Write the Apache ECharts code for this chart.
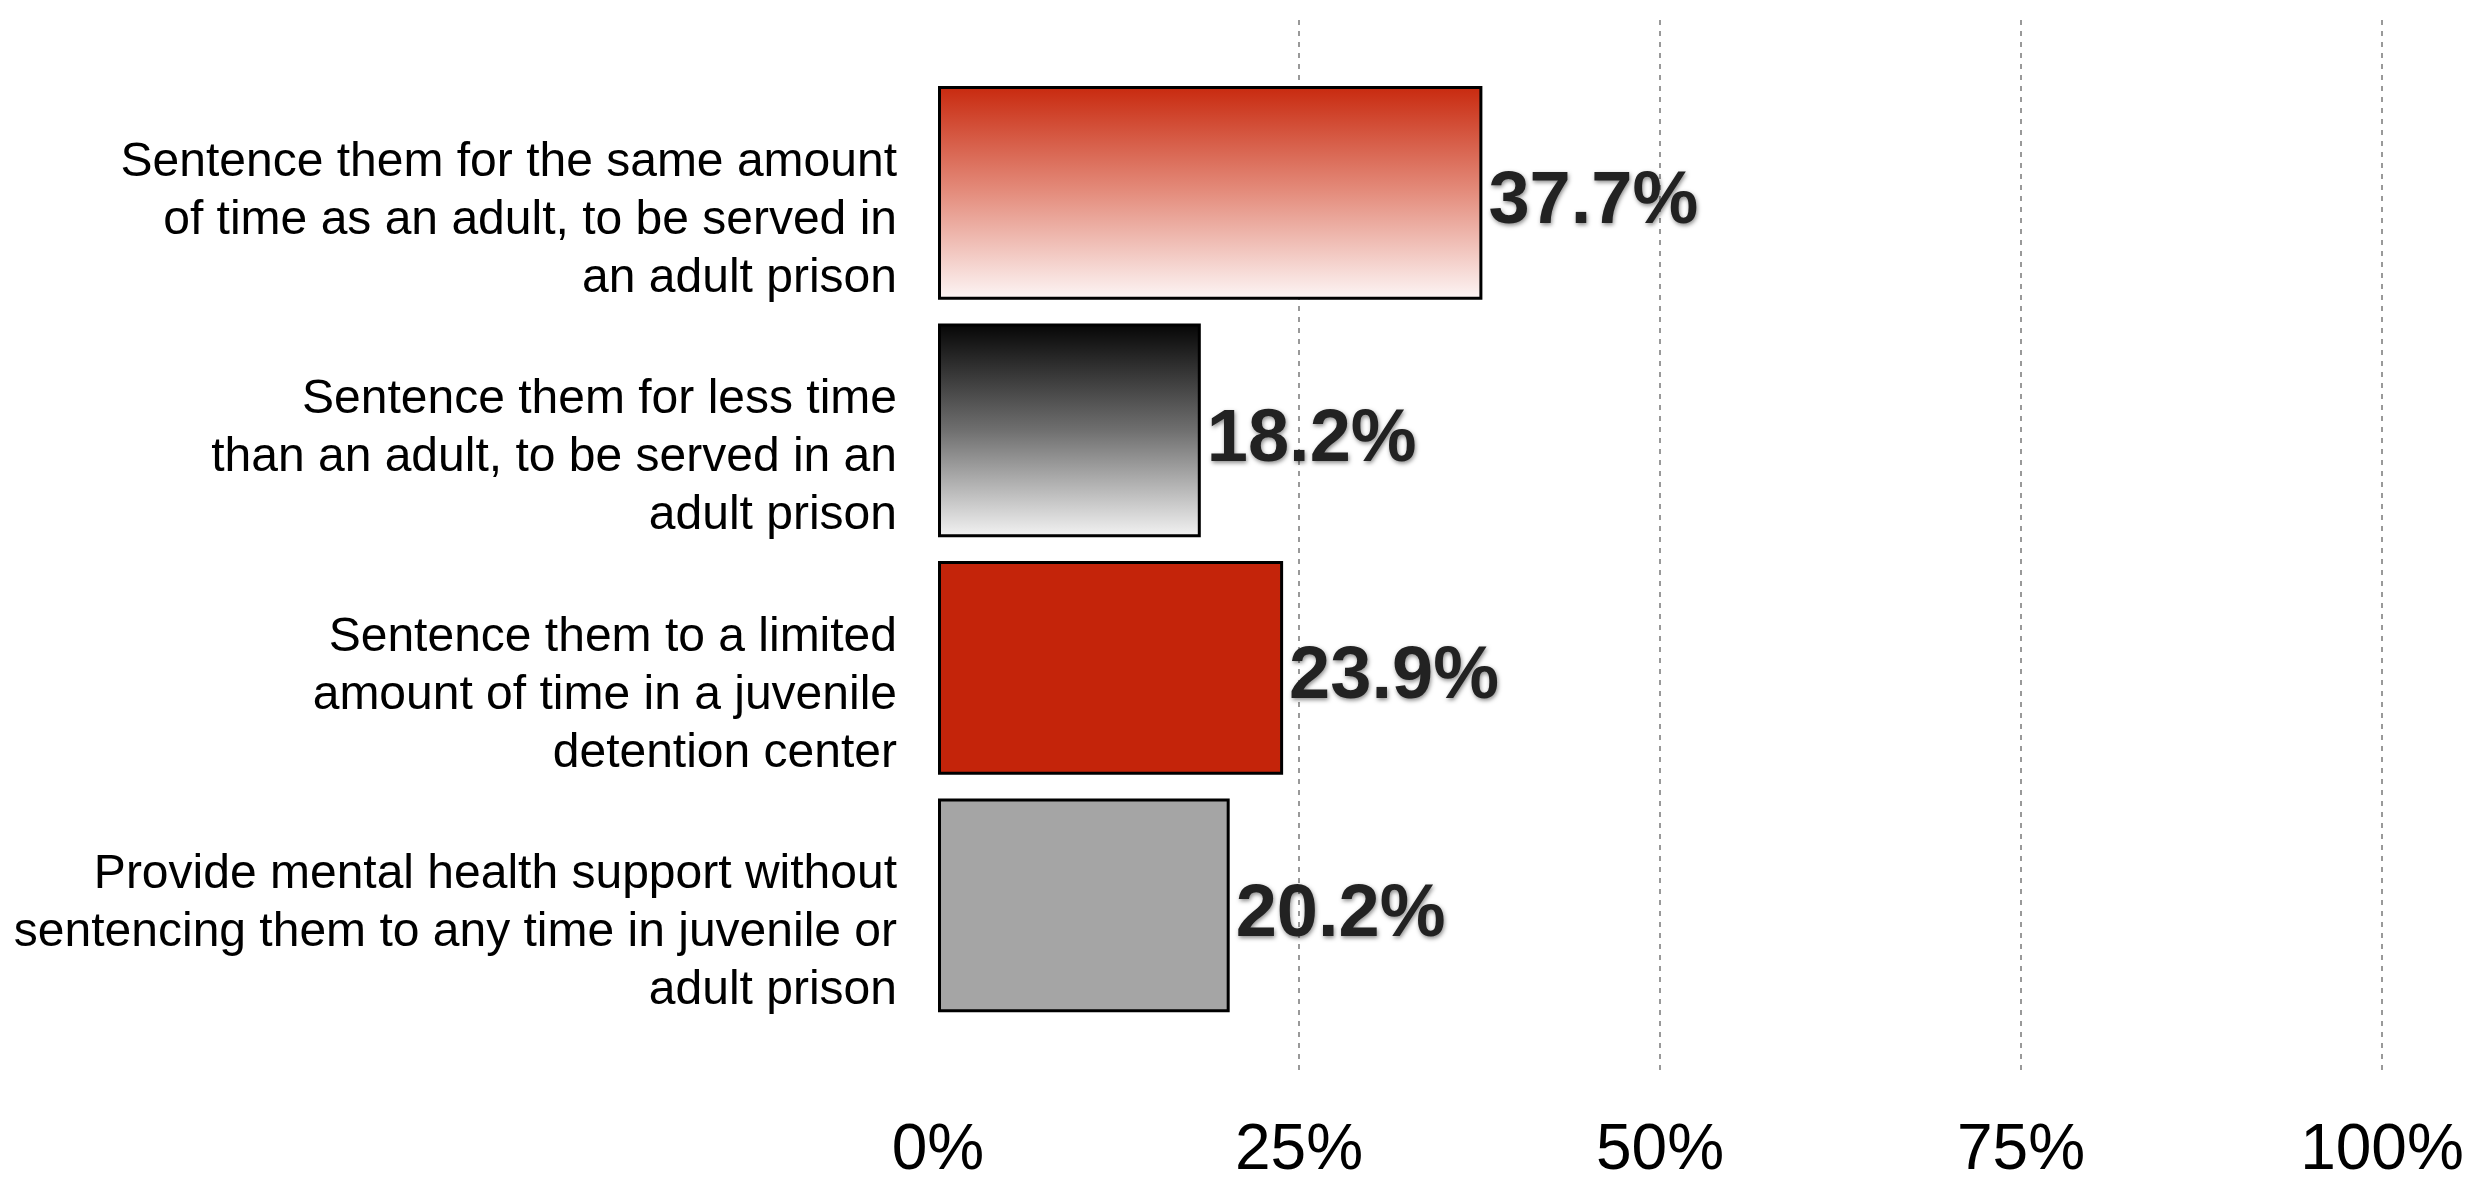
<!DOCTYPE html>
<html>
<head>
<meta charset="utf-8">
<script src="https://cdn.jsdelivr.net/npm/echarts@6/dist/echarts.min.js"></script>
<style>
html,body{margin:0;padding:0;background:#fff;}
#c{width:2474px;height:1183px;}
</style>
</head>
<body>
<div id="c"></div>
<script>
const categories = [
  "Sentence them for the same amount\nof time as an adult, to be served in\nan adult prison",
  "Sentence them for less time\nthan an adult, to be served in an\nadult prison",
  "Sentence them to a limited\namount of time in a juvenile\ndetention center",
  "Provide mental health support without\nsentencing them to any time in juvenile or\nadult prison"
];
const values = [37.7, 18.2, 23.9, 20.2];
const tickLabels = ["0%", "25%", "50%", "75%", "100%"];

const fills = [
  new echarts.graphic.LinearGradient(0, 0, 0, 1, [
    {offset: 0, color: '#c8290e'}, {offset: 0.5, color: '#e48d7d'}, {offset: 1, color: '#fdf6f6'}]),
  new echarts.graphic.LinearGradient(0, 0, 0, 1, [
    {offset: 0, color: '#050505'}, {offset: 0.5, color: '#6f6f6f'}, {offset: 1, color: '#f3f3f3'}]),
  '#c4240a',
  '#a5a5a5'
];

const FONT = '"Liberation Sans", Helvetica, Arial, sans-serif';
const chart = echarts.init(document.getElementById('c'), null, {renderer: 'canvas'});
chart.setOption({
  animation: false,
  backgroundColor: '#fff',
  grid: [
    {left: 938, right: 92, top: 20, bottom: 100},
    {left: 938, right: 92, top: 74, bottom: 159}
  ],
  xAxis: [
    {
      gridIndex: 0, type: 'value', min: 0, max: 100, interval: 25,
      axisLine: {show: false}, axisTick: {show: false},
      axisLabel: {
        margin: 46, fontSize: 64, color: '#000', fontFamily: FONT,
        formatter: (v) => tickLabels[Math.round(v / 25)]
      },
      splitLine: {show: true, lineStyle: {color: ['rgba(0,0,0,0)', '#999', '#999', '#999', '#999'], width: 2, type: [5, 6]}}
    },
    {
      gridIndex: 1, type: 'value', min: 0, max: 100, interval: 25, show: false,
      splitLine: {show: false}
    }
  ],
  yAxis: [
    {gridIndex: 0, type: 'value', show: false, splitLine: {show: false}},
    {
      gridIndex: 1, type: 'category', data: categories, inverse: true,
      axisLine: {show: false}, axisTick: {show: false},
      axisLabel: {
        margin: 41, color: '#000', fontFamily: FONT, align: 'right',
        formatter: (v) => '{s| }\n' + v.split('\n').map(l => '{a|' + l + '}').join('\n'),
        rich: {
          s: {fontSize: 10, lineHeight: 56, fontFamily: FONT},
          a: {fontSize: 48, lineHeight: 58, color: '#000', fontFamily: FONT, align: 'right'}
        }
      }
    }
  ],
  series: [{
    type: 'bar', xAxisIndex: 1, yAxisIndex: 1,
    barCategoryGap: '10%',
    data: values.map((v, i) => ({
      value: v,
      itemStyle: {color: fills[i], borderColor: '#000', borderWidth: 3}
    })),
    label: {
      show: true, position: 'right', distance: 6, offset: [0, 10],
      formatter: (p) => p.value.toFixed(1) + '%',
      fontSize: 74, fontWeight: 'bold', color: '#222', fontFamily: FONT,
      textShadowColor: 'rgba(0,0,0,0.45)', textShadowBlur: 4, textShadowOffsetX: 1, textShadowOffsetY: 2
    }
  }]
});
</script>
</body>
</html>
